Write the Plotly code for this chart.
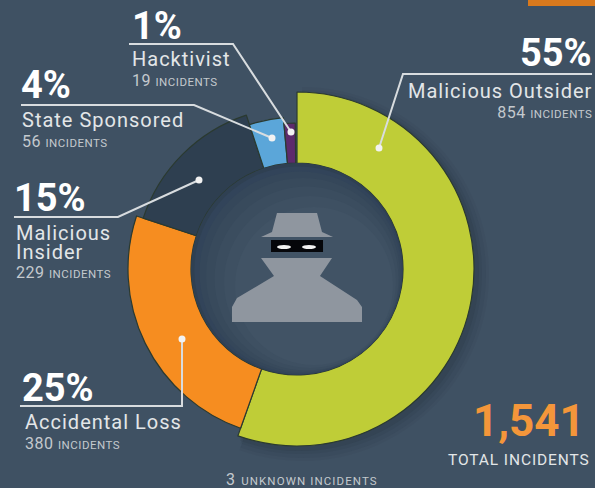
import plotly.graph_objects as go

# Incident breakdown
categories = ["Malicious Outsider", "Accidental Loss", "Malicious Insider",
              "State Sponsored", "Hacktivist", "Unknown"]
incidents = [854, 380, 229, 56, 19, 3]
percents = ["55%", "25%", "15%", "4%", "1%"]
slice_colors = ["#bfcd37", "#f68d20", "#2e3f50", "#5ba6d9", "#5d2a6c"]
slice_radii = [177, 169, 162, 152, 146]
total_label = "1,541"

W, H = 595, 488
BG = "#3f5163"
FONT = "Roboto"
TEXT = "#e3e6e8"
SUB = "#c4c9ce"
WHITE = "#ffffff"
LINE = "#d8dcdf"
ICON = "#8f969f"
EDGE = "#2b3a30"
CLEAR = "rgba(0,0,0,0)"
CX, CY, RI = 297, 269, 106


def px(x):
    return x / W


def py(y):
    return 1 - y / H


def polyline(points, color=LINE, width=2):
    path = "M " + " L ".join(f"{px(x):.4f},{py(y):.4f}" for x, y in points)
    return dict(type="path", path=path, xref="paper", yref="paper",
                line=dict(color=color, width=width))


def polygon(points, fill):
    path = "M " + " L ".join(f"{px(x):.4f},{py(y):.4f}" for x, y in points) + " Z"
    return dict(type="path", path=path, xref="paper", yref="paper",
                fillcolor=fill, line=dict(width=0))


def oval(x, y, rx, ry, fill):
    return dict(type="circle", xref="paper", yref="paper",
                x0=px(x - rx), x1=px(x + rx), y0=py(y + ry), y1=py(y - ry),
                fillcolor=fill, line=dict(width=0))


def label(text, x, y, size, color=TEXT, anchor="left", bold=False, spacing=0):
    body = f"<b>{text}</b>" if bold else text
    if spacing:
        body = f"<span style='letter-spacing:{spacing}px'>{body}</span>"
    return dict(text=body, x=px(x), y=py(y), xref="paper", yref="paper",
                xanchor=anchor, yanchor="middle", align=anchor, showarrow=False,
                font=dict(family=FONT, size=size, color=color))


def count_span(value, word, spacing=0.5):
    return (f"<span style='font-size:16px;letter-spacing:{spacing}px;fill:{SUB}'>{value} "
            f"<span style='font-size:11.5px'>{word}</span></span>")


def name_block(lines, value, x, y, anchor="left", line_size=15):
    """Name lines with the incident count underneath, set as one text block."""
    names = [f"<span style='font-size:20px;letter-spacing:1px'>{n}</span>" for n in lines]
    return label("<br>".join(names + [count_span(value, "INCIDENTS")]),
                 x, y, line_size, TEXT, anchor)


def ring_slice(index, radius, cx=CX, cy=CY, color=None, line=True):
    """One donut slice on its own radius; the remaining slices stay clear."""
    fill = color or slice_colors[index]
    colors = [fill if i == index else CLEAR for i in range(len(incidents))]
    widths = [1.2 if (i == index and line) else 0 for i in range(len(incidents))]
    return go.Pie(
        labels=categories, values=incidents, sort=False, direction="clockwise",
        rotation=0, hole=RI / radius, textinfo="none", hoverinfo="skip",
        showlegend=False,
        marker=dict(colors=colors, line=dict(color=EDGE, width=widths)),
        domain=dict(x=[px(cx - radius), px(cx + radius)],
                    y=[py(cy + radius), py(cy - radius)]),
    )


fig = go.Figure()

# soft shadow thrown by the widest slice
for grow, offset, alpha in [(10, 5, 0.05), (7, 5, 0.07), (4, 4, 0.09), (2, 3, 0.12)]:
    fig.add_trace(ring_slice(0, slice_radii[0] + grow, CX + offset, CY + offset,
                             f"rgba(30,40,50,{alpha})", line=False))

for i, radius in enumerate(slice_radii):
    fig.add_trace(ring_slice(i, radius))

shapes = [
    # corner strip
    polygon([(528, 0), (595, 0), (595, 6), (528, 6)], "#d9791c"),
    # shaded rim inside the hole, heavier towards the upper left
    oval(CX, CY, RI, RI, "#2f4052"),
]
for shrink, shift, shade in [(2, 1.4, "#32445a"), (5, 3.5, "#35475a"), (9, 6, "#384a5c"),
                             (14, 9.5, "#3b4d5f"), (20, 13, "#3e5062"), (27, 17, "#415365")]:
    shapes.append(oval(CX + shift, CY + shift, RI - shrink, RI - shrink, shade))

# figure in hat and coat
shapes += [
    polygon([(277, 213), (317, 213), (322, 232), (333, 237), (261, 237), (272, 232)], ICON),
    polygon([(271, 240), (323, 240), (323, 252), (271, 252)], "#05060a"),
    polygon([(261, 258), (332, 258), (320, 276), (357, 300), (362, 307), (362, 322),
             (232, 322), (232, 307), (237, 298), (274, 276)], ICON),
    oval(284, 247, 7, 2, "#f2f2f2"),
    oval(309, 247, 7, 2, "#f2f2f2"),
]

# leader lines and their end dots
leaders = [
    [(592, 74), (403, 74), (379, 148)],
    [(129, 44), (233, 44), (291, 132)],
    [(21, 105), (194, 105), (272, 138)],
    [(14, 217), (118, 217), (199, 180)],
    [(20, 406), (182, 406), (182, 339)],
]
dots = [(379, 148), (291, 132), (272, 138), (199, 180), (182, 339)]
shapes += [polyline(p) for p in leaders]
shapes += [oval(x, y, 3.5, 3.5, "#f2f2f2") for x, y in dots]

annotations = [
    label(percents[0], 594, 53, 38, WHITE, "right", True),
    name_block([categories[0]], incidents[0], 594, 100, "right"),

    label(percents[4], 130, 26, 38, WHITE, bold=True),
    name_block([categories[4]], incidents[4], 130, 68),

    label(percents[3], 19, 85, 38, WHITE, bold=True),
    name_block([categories[3]], incidents[3], 20, 129),

    label(percents[2], 12, 198, 38, WHITE, bold=True),
    name_block(["Malicious", "Insider"], incidents[2], 14, 251, line_size=14.5),

    label(percents[1], 20, 388, 38, WHITE, bold=True),
    name_block([categories[1]], incidents[1], 23, 431),

    label(total_label, 587, 421, 44, "#f4963a", "right", True),
    label("TOTAL INCIDENTS", 592, 460, 15.5, TEXT, "right", spacing=0.9),
    label(count_span(incidents[5], "UNKNOWN INCIDENTS", 1.1), 224, 479, 16, SUB),
]

fig.update_layout(
    width=W, height=H, margin=dict(l=0, r=0, t=0, b=0),
    paper_bgcolor=BG, plot_bgcolor=BG,
    shapes=shapes, annotations=annotations,
)

fig.write_html("out.html")
